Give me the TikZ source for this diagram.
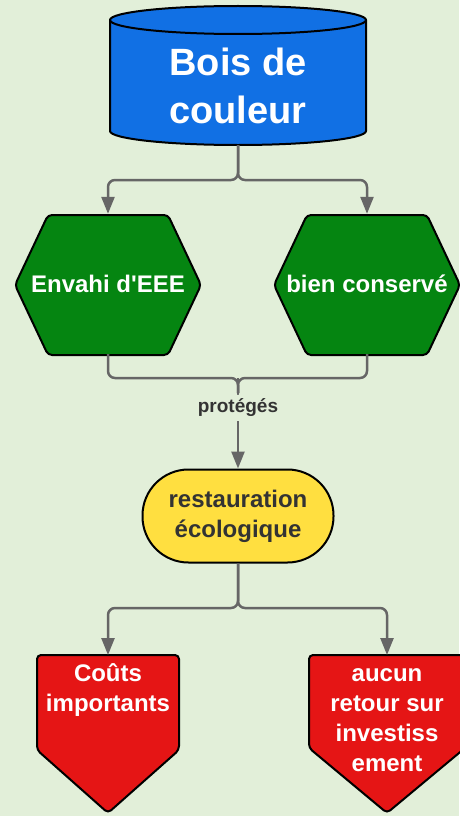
\documentclass[tikz,border=0pt]{standalone}
\usepackage{fontspec}
\setmainfont{Liberation Sans}
\usetikzlibrary{arrows.meta}

\definecolor{bgcol}{HTML}{E2EFD9}
\definecolor{boisblue}{HTML}{1170E4}
\definecolor{hexgreen}{HTML}{058511}
\definecolor{restoyellow}{HTML}{FFDF40}
\definecolor{alertred}{HTML}{E51515}
\definecolor{linkgray}{HTML}{666666}
\definecolor{textgray}{HTML}{333333}

\tikzset{
  link/.style={linkgray, line width=2.5pt, rounded corners=7pt},
  flow/.style={link, -{Triangle[length=17pt,width=13pt]}},
  outline/.style={draw=black, line width=2pt, rounded corners=4pt},
  label/.style={font=\bfseries\fontsize{24}{30}\selectfont, align=center, text=white},
  protbox/.style={font=\bfseries\fontsize{19}{22}\selectfont, text=textgray, fill=bgcol, inner sep=4pt},
}

\begin{document}
\begin{tikzpicture}[x=1pt,y=1pt]
    \fill[bgcol] (0,0) rectangle (459,-816);
    \useasboundingbox (0,0) rectangle (459,-816);

    % shapes first, text nodes on top
    \draw[outline, fill=boisblue, rounded corners=0pt] (110,-20) -- (110,-131) arc (180:360:128 and 14) -- (366,-20) arc (0:180:128 and 14) -- cycle;
    \draw[line width=2pt] (110,-20) arc (180:360:128 and 14);
    \foreach \cx in {108,367}
        \draw[outline, fill=hexgreen] (\cx-93,-285) -- ++(33,70) -- ++(120,0) -- ++(33,-70) -- ++(-33,-70) -- ++(-120,0) -- cycle;
    \draw[outline, fill=alertred] (37,-655) -- (179,-655) -- (179,-750) -- (108,-813) -- (37,-750) -- cycle;
    \draw[outline, fill=alertred] (309,-655) -- (465,-655) -- (465,-748) -- (387,-813) -- (309,-748) -- cycle;

    \node[label, font=\bfseries\fontsize{38}{48}\selectfont] (bois) at (238,-86) {Bois de\\couleur};
    \coordinate (boisbot) at (238,-145);
    \node[label, minimum width=186pt, minimum height=140pt] (envahi) at (108,-284) {Envahi d\textquotesingle EEE};
    \node[label, minimum width=186pt, minimum height=140pt] (bien) at (367,-284) {bien conservé};
    \node[label, text=textgray, draw=black, line width=2pt, fill=restoyellow, rounded corners=46pt,
          minimum width=191pt, minimum height=93pt] (resto) at (238,-516) {restauration\\écologique};
    \node[label, anchor=north, inner ysep=5pt] (couts) at (108,-655) {\strut Coûts\\importants};
    \node[label, anchor=north, inner ysep=5pt] (aucun) at (387,-655) {\strut aucun\\retour sur\\investiss\\ement};

    % connectors
    \coordinate (split1) at (238,-180);
    \draw[flow] (boisbot) -- (split1) -| (envahi.north);
    \draw[flow] (boisbot) -- (split1) -| (bien.north);

    \coordinate (merge) at (238,-378);
    \draw[link] (envahi.south) |- (merge) -- +(0,-15);
    \draw[link] (bien.south) |- (merge) -- +(0,-15);
    \draw[flow] (merge) -- node[protbox, pos=0.33] (prot) {protégés} (resto.north);

    \coordinate (split2) at (238,-608);
    \draw[flow] (resto.south) -- (split2) -| (couts.north);
    \draw[flow] (resto.south) -- (split2) -| (aucun.north);
\end{tikzpicture}
\end{document}
